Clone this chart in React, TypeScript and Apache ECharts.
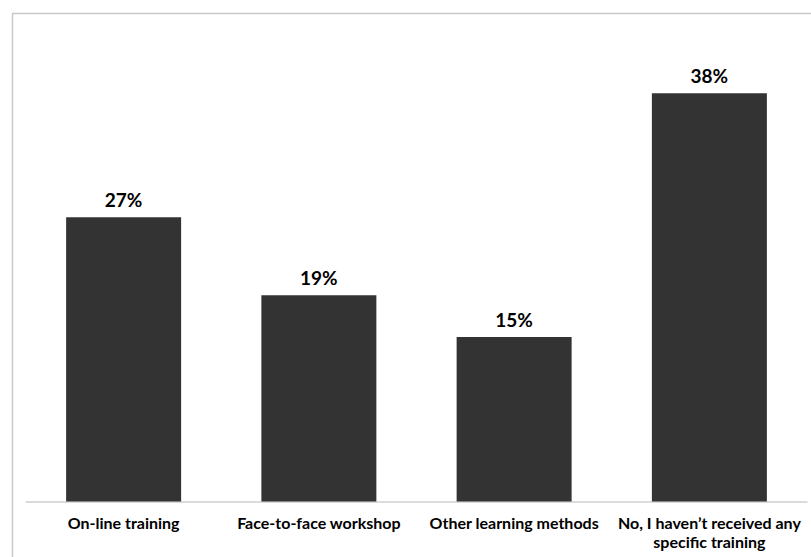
import React, { useEffect, useRef } from "react";
import * as echarts from "echarts";

const categories = [
  "On-line training",
  "Face-to-face workshop",
  "Other learning methods",
  "No, I haven\u2019t received any\nspecific training",
];
const values = [26.6, 19.3, 15.4, 38.2];

export default function App() {
  const ref = useRef<HTMLDivElement>(null);
  useEffect(() => {
    if (!ref.current) return;
    const chart = echarts.init(ref.current, null, { renderer: "svg" });
    chart.setOption({
      animation: false,
      backgroundColor: "#ffffff",
      graphic: [
        {
          type: "rect",
          left: 10,
          top: 11,
          shape: { x: 0, y: 0, width: 900, height: 700 },
          style: { fill: "none", stroke: "#c9c9c9", lineWidth: 1.5 },
          silent: true,
        },
      ],
      grid: { left: 26, right: 4, top: 74, bottom: 55.5 },
      xAxis: {
        type: "category",
        data: categories,
        axisLine: { show: true, lineStyle: { color: "#d0d0d0", width: 1.5 } },
        axisTick: { show: false },
        axisLabel: {
          interval: 0,
          fontFamily: "Lato",
          fontWeight: "bold",
          fontSize: 16,
          color: "#000",
          lineHeight: 19,
          margin: 11,
        },
      },
      yAxis: {
        type: "value",
        min: 0,
        max: 40,
        show: false,
        splitLine: { show: false },
      },
      series: [
        {
          type: "bar",
          data: values,
          barWidth: 115,
          itemStyle: { color: "#333333" },
          label: {
            show: true,
            position: "top",
            distance: 8,
            formatter: (p: any) => Math.round(p.value) + "%",
            fontFamily: "Lato",
            fontWeight: "bold",
            fontSize: 19,
            color: "#000",
          },
        },
      ],
    });
    return () => chart.dispose();
  }, []);
  return (
    <div
      ref={ref}
      style={{ position: "fixed", left: 0, top: 0, width: 811, height: 557 }}
    />
  );
}
